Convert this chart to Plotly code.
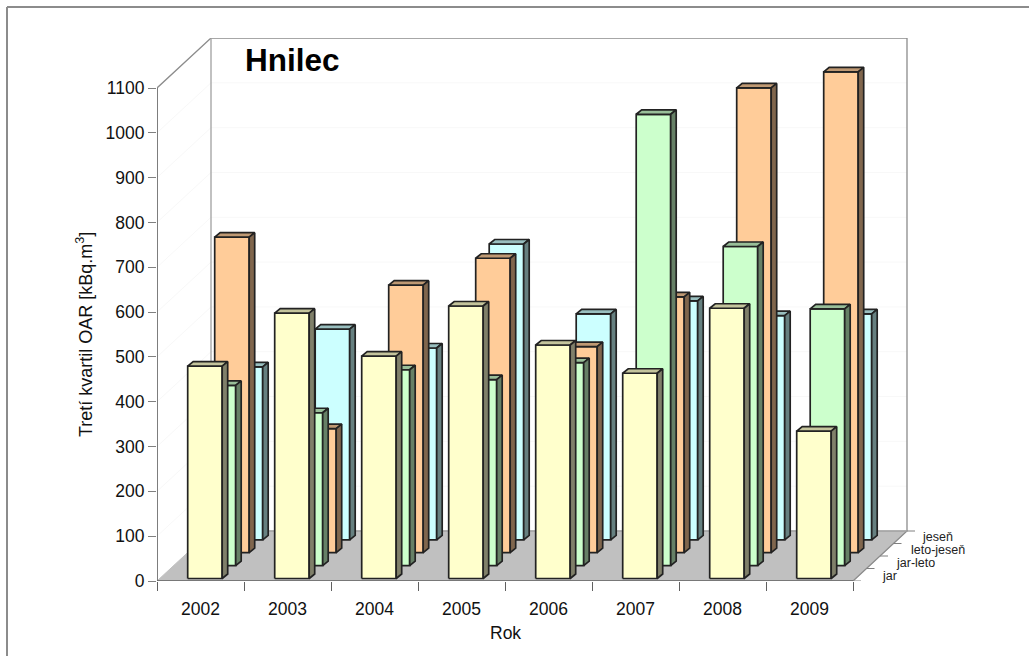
import plotly.graph_objects as go

# Third-quartile OAR per year and sampling season
years = ["2002", "2003", "2004", "2005", "2006", "2007", "2008", "2009"]
seasons = ["jar", "jar-leto", "leto-jeseň", "jeseň"]
jar = [474, 592, 496, 608, 521, 458, 603, 329]
jar_leto = [402, 341, 437, 415, 453, 1007, 712, 573]
leto_jesen = [704, 277, 597, 657, 460, 571, 1037, 1073]
jesen = [386, 470, 428, 660, 504, 533, 500, 504]
y_ticks = list(range(0, 1101, 100))

# Fill colours per season: front, top and side face
face_colors = [
    ("#FFFFCC", "#C4C49C", "#80806A"),
    ("#CCFFCC", "#99BF99", "#668066"),
    ("#FFCC99", "#BF9973", "#80664D"),
    ("#CCFFFF", "#99BFBF", "#668080"),
]
series = [jar, jar_leto, leto_jesen, jesen]

# Oblique projection, expressed in pixels of the drawing
WIDTH, HEIGHT = 1029, 656
LEFT, RIGHT, TOP, BOTTOM = 157, 1000, 38, 581
CAT_PX = 87.0
VAL_PX = 493 / 1100
FLOOR_DX, FLOOR_DY = 54, 50
STEP_DX, STEP_DY = 13.5, 12.9
BAR_START_DX, BAR_START_DY = 30.7, 2.5
BAR_W = 34.5
BAR_DX, BAR_DY = 5.5, 4.5


def cx(px):
    return px / CAT_PX


def cy(px):
    return px / VAL_PX


def paper_x(px):
    return (px - LEFT) / (RIGHT - LEFT)


def paper_y(py):
    return (BOTTOM - py) / (BOTTOM - TOP)


def polygons(values, depth):
    """Front, top and side outlines of one season's bars."""
    front_x, front_y, top_x, top_y, side_x, side_y = [], [], [], [], [], []
    ox = cx(BAR_START_DX + depth * STEP_DX)
    oy = cy(BAR_START_DY + depth * STEP_DY)
    w, dx, dy = cx(BAR_W), cx(BAR_DX), cy(BAR_DY)
    for i, v in enumerate(values):
        x0, x1 = i + ox, i + ox + w
        y0, y1 = oy, oy + v
        front_x += [x0, x1, x1, x0, x0, None]
        front_y += [y0, y0, y1, y1, y0, None]
        top_x += [x0, x1, x1 + dx, x0 + dx, x0, None]
        top_y += [y1, y1, y1 + dy, y1 + dy, y1, None]
        side_x += [x1, x1 + dx, x1 + dx, x1, x1, None]
        side_y += [y0, y0 + dy, y1 + dy, y1, y0, None]
    return (front_x, front_y), (top_x, top_y), (side_x, side_y)


fig = go.Figure()

n = len(years)
back_x, back_y = cx(FLOOR_DX), cy(FLOOR_DY)
y_max = y_ticks[-1]


def add_path(xs, ys, color, width=1.3, fill=None):
    fig.add_trace(go.Scatter(
        x=xs, y=ys, mode="lines", cliponaxis=False, showlegend=False, hoverinfo="skip",
        line=dict(color=color, width=width),
        fill="toself" if fill else None, fillcolor=fill,
    ))


# Faint gridlines on the two walls
grid_x, grid_y = [], []
for t in y_ticks[1:]:
    grid_x += [0, back_x, n + back_x, None]
    grid_y += [t, t + back_y, t + back_y, None]
add_path(grid_x, grid_y, "#F8F8F8", 1)

# Floor
add_path([0, n, n + back_x, back_x, 0], [0, 0, back_y, back_y, 0], "#C0C0C0", 1, "#C0C0C0")

# Wall outlines
add_path(
    [0, 0, back_x, n + back_x, n + back_x, n],
    [0, y_max, y_max + back_y, y_max + back_y, back_y, 0],
    "#8C8C8C",
)
add_path([back_x, back_x, n + back_x], [y_max + back_y, back_y, back_y], "#A0A0A0")

# Front axis lines
add_path([0, 0, n], [y_max, 0, 0], "#606060")

# Depth axis ticks, one at each season boundary
tick_x, tick_y = [], []
for k in range(len(seasons) + 1):
    f = k / len(seasons)
    tick_x += [n + f * back_x, n + f * back_x + cx(8), None]
    tick_y += [f * back_y, f * back_y, None]
add_path(tick_x, tick_y, "#808080", 1)

# Bars, painted from the back row to the front row
for depth in reversed(range(len(series))):
    front, top, side = polygons(series[depth], depth)
    c_front, c_top, c_side = face_colors[depth]
    add_path(front[0], front[1], "#222222", 1.7, c_front)
    add_path(top[0], top[1], "#222222", 1.7, c_top)
    add_path(side[0], side[1], "#222222", 1.7, c_side)

# Season names beside the depth axis
label_x_px = [726, 740, 754, 766]
fig.add_trace(go.Scatter(
    x=[cx(p) for p in label_x_px],
    y=[cy(4.5 + k * 13) for k in range(len(seasons))],
    text=seasons, mode="text", textposition="middle right",
    textfont=dict(family="Liberation Sans", size=12.5, color="#222222"),
    cliponaxis=False, showlegend=False, hoverinfo="skip",
))


# Frame: only the top and left edges are ruled, running off the page
def frame_line(x0, y0, x1, y1):
    return dict(
        type="line", xref="paper", yref="paper", layer="below",
        x0=paper_x(x0), x1=paper_x(x1), y0=paper_y(y0), y1=paper_y(y1),
        line=dict(color="#8C8C8C", width=2),
    )


fig.update_layout(
    width=WIDTH, height=HEIGHT,
    margin=dict(l=LEFT, r=WIDTH - RIGHT, t=TOP, b=HEIGHT - BOTTOM, autoexpand=False),
    paper_bgcolor="white", plot_bgcolor="white",
    font=dict(family="Liberation Sans", size=17.5, color="#111111"),
    showlegend=False,
    title=dict(
        text="<b>Hnilec</b>", x=245 / WIDTH, xanchor="left", xref="container",
        y=1 - 60 / HEIGHT, yanchor="middle", yref="container",
        font=dict(family="Liberation Sans", size=31.5, color="black"),
    ),
    xaxis=dict(
        range=[0, cx(RIGHT - LEFT)], showgrid=False, zeroline=False, showline=False,
        tickmode="array", tickvals=[i + 0.5 for i in range(n)], ticktext=years,
        ticks="outside", ticklen=12, tickcolor="rgba(0,0,0,0)",
        minor=dict(tickmode="array", tickvals=list(range(n + 1)), ticks="outside",
                   ticklen=9, tickcolor="#606060", tickwidth=1.3, showgrid=False),
    ),
    yaxis=dict(
        range=[0, cy(BOTTOM - TOP)], showgrid=False, zeroline=False, showline=False,
        tickmode="array", tickvals=y_ticks, ticks="outside", ticklen=8,
        tickcolor="#808080", tickwidth=1.3,
    ),
    shapes=[frame_line(7, 7, WIDTH, 7), frame_line(7, 7, 7, HEIGHT)],
    annotations=[
        dict(text="Tretí kvartil OAR [kBq.m<sup>3</sup>]", textangle=-90, showarrow=False,
             xref="paper", yref="paper", x=paper_x(84), y=paper_y(335),
             xanchor="center", yanchor="middle", font=dict(size=18)),
        dict(text="Rok", showarrow=False, xref="paper", yref="paper",
             x=paper_x(505), y=paper_y(633), xanchor="center", yanchor="middle",
             font=dict(size=17.5)),
    ],
)

fig.write_html("out.html")
